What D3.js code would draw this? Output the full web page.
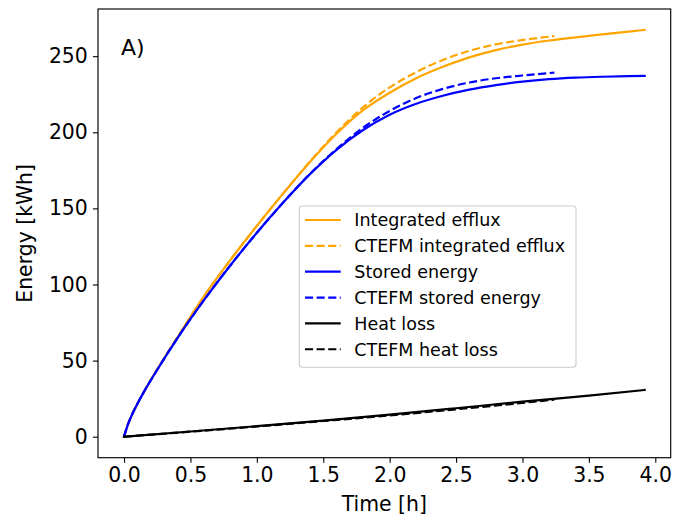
<!DOCTYPE html>
<html>
<head>
<meta charset="utf-8">
<script src="https://cdn.jsdelivr.net/npm/d3@7"></script>
<style>
  html, body { margin: 0; padding: 0; background: #fff; }
  svg { display: block; }
  text { font-family: "DejaVu Sans", sans-serif; fill: #000; }
</style>
</head>
<body>
<svg id="chart" width="675" height="522"></svg>
<script>
// Time axis (hours) and energy curves (kWh)
const effluxT   = [0, 0.025, 0.05, 0.1, 0.15, 0.25, 0.4, 0.6, 0.8, 1.0, 1.2, 1.4, 1.6, 1.8, 2.0, 2.2, 2.4, 2.6, 2.8, 3.0, 3.2, 3.4, 3.6, 3.8, 3.92];
const effluxE   = [0, 7, 12.5, 21.5, 29.5, 44.2, 65, 92, 116, 138.5, 160, 180.5, 199, 214.5, 226, 235.5, 243, 249.2, 254, 257.6, 260.3, 262.4, 264.3, 266.1, 267.3];

const cEffluxT  = [0, 0.025, 0.05, 0.1, 0.15, 0.25, 0.4, 0.6, 0.8, 1.0, 1.2, 1.4, 1.6, 1.8, 2.0, 2.2, 2.4, 2.6, 2.8, 3.0, 3.2, 3.24];
const cEffluxE  = [0, 7, 12.5, 21.5, 29.5, 44.2, 65, 92, 116, 138.5, 160, 180.8, 200, 216.5, 229.5, 239.5, 247.5, 253.5, 257.8, 260.6, 262.8, 263.2];

const storedT   = [0, 0.025, 0.05, 0.1, 0.15, 0.25, 0.4, 0.6, 0.8, 1.0, 1.2, 1.4, 1.6, 1.8, 2.0, 2.2, 2.4, 2.6, 2.8, 3.0, 3.2, 3.4, 3.6, 3.8, 3.92];
const storedE   = [0, 7, 12.5, 21.5, 29.5, 44, 64.5, 89.5, 112.5, 134, 154, 172.5, 188.5, 201.5, 211.5, 218.7, 224, 228, 231, 233.3, 234.9, 235.9, 236.5, 236.9, 237];

const cStoredT  = [0, 0.025, 0.05, 0.1, 0.15, 0.25, 0.4, 0.6, 0.8, 1.0, 1.2, 1.4, 1.6, 1.8, 2.0, 2.2, 2.4, 2.6, 2.8, 3.0, 3.2, 3.24];
const cStoredE  = [0, 7, 12.5, 21.5, 29.5, 44, 64.5, 89.5, 112.5, 134, 154, 172.7, 189, 203, 214, 222.5, 228.5, 232.7, 235.5, 237.3, 238.9, 239.2];

const lossT     = [0, 0.5, 1.0, 1.5, 2.0, 2.5, 3.0, 3.5, 3.92];
const lossE     = [0, 3.4, 6.9, 10.6, 14.5, 18.7, 23, 27, 30.7];

const cLossT    = [0, 0.5, 1.0, 1.5, 2.0, 2.5, 3.0, 3.24];
const cLossE    = [0, 3.3, 6.7, 10.3, 14.0, 18.0, 22.2, 24.4];

const xTicks = [0, 0.5, 1.0, 1.5, 2.0, 2.5, 3.0, 3.5, 4.0];
const yTicks = [0, 50, 100, 150, 200, 250];

const seriesNames = ["Integrated efflux", "CTEFM integrated efflux", "Stored energy",
                     "CTEFM stored energy", "Heat loss", "CTEFM heat loss"];

const series = [
  { name: seriesNames[0], t: effluxT,  e: effluxE,  color: "orange", dashed: false },
  { name: seriesNames[1], t: cEffluxT, e: cEffluxE, color: "orange", dashed: true },
  { name: seriesNames[2], t: storedT,  e: storedE,  color: "blue",   dashed: false },
  { name: seriesNames[3], t: cStoredT, e: cStoredE, color: "blue",   dashed: true },
  { name: seriesNames[4], t: lossT,    e: lossE,    color: "black",  dashed: false },
  { name: seriesNames[5], t: cLossT,   e: cLossE,   color: "black",  dashed: true }
];

const svg = d3.select("#chart");
const plot = { left: 98, top: 9, right: 670.7, bottom: 457.7 };

// data span 0..3.92 h and 0..267.5 kWh with 5% margins
const x = d3.scaleLinear().domain([-0.196, 4.116]).range([plot.left, plot.right]);
const y = d3.scaleLinear().domain([-13.8, 281]).range([plot.bottom, plot.top]);

const lineW = 2.2;
const dash = "8.1,3.5";
const tickFont = "20.4px";

const line = d3.line()
  .x(d => x(d[0]))
  .y(d => y(d[1]))
  .curve(d3.curveMonotoneX);

svg.append("defs").append("clipPath").attr("id", "plotclip")
  .append("rect")
  .attr("x", plot.left).attr("y", plot.top)
  .attr("width", plot.right - plot.left).attr("height", plot.bottom - plot.top);

const linesG = svg.append("g").attr("clip-path", "url(#plotclip)");
series.forEach(s => {
  linesG.append("path")
    .datum(s.t.map((t, i) => [t, s.e[i]]))
    .attr("d", line)
    .attr("fill", "none")
    .attr("stroke", s.color)
    .attr("stroke-width", lineW)
    .attr("stroke-dasharray", s.dashed ? dash : null)
    .attr("stroke-linejoin", "round")
    .attr("stroke-linecap", s.dashed ? "butt" : "square");
});

// Axes
const xAxis = d3.axisBottom(x).tickValues(xTicks).tickFormat(d3.format(".1f"))
  .tickSize(5.1).tickPadding(5.1).tickSizeOuter(0);
const yAxis = d3.axisLeft(y).tickValues(yTicks).tickFormat(d3.format("d"))
  .tickSize(5.1).tickPadding(5.1).tickSizeOuter(0);

const gx = svg.append("g").attr("transform", `translate(0,${plot.bottom})`).call(xAxis);
const gy = svg.append("g").attr("transform", `translate(${plot.left},0)`).call(yAxis);
[gx, gy].forEach(g => {
  g.select(".domain").remove();
  g.selectAll(".tick line").attr("stroke", "#000").attr("stroke-width", 1.1);
  g.selectAll(".tick text")
    .style("font-family", "'DejaVu Sans', sans-serif")
    .style("font-size", tickFont)
    .attr("fill", "#000");
});

// Frame
svg.append("rect")
  .attr("x", plot.left).attr("y", plot.top)
  .attr("width", plot.right - plot.left).attr("height", plot.bottom - plot.top)
  .attr("fill", "none").attr("stroke", "#000").attr("stroke-width", 1.15);

// Axis labels
svg.append("text")
  .attr("x", (plot.left + plot.right) / 2).attr("y", 511)
  .attr("text-anchor", "middle")
  .style("font-size", tickFont)
  .text("Time [h]");

svg.append("text")
  .attr("transform", `translate(32,${(plot.top + plot.bottom) / 2}) rotate(-90)`)
  .attr("text-anchor", "middle")
  .style("font-size", tickFont)
  .text("Energy [kWh]");

// Panel tag
svg.append("text")
  .attr("x", 121).attr("y", 54.5)
  .style("font-size", "22px")
  .text("A)");

// Legend
const legend = { x: 299.3, y: 206, w: 276.7, h: 161.3, rowY0: 220, rowStep: 25.85 };
const lg = svg.append("g");
lg.append("rect")
  .attr("x", legend.x).attr("y", legend.y)
  .attr("width", legend.w).attr("height", legend.h)
  .attr("rx", 3).attr("ry", 3)
  .attr("fill", "#fff").attr("fill-opacity", 0.8)
  .attr("stroke", "#cccccc").attr("stroke-width", 1.1);

series.forEach((s, i) => {
  const cy = legend.rowY0 + i * legend.rowStep;
  lg.append("line")
    .attr("x1", 305).attr("x2", 340.7)
    .attr("y1", cy).attr("y2", cy)
    .attr("stroke", s.color)
    .attr("stroke-width", lineW)
    .attr("stroke-dasharray", s.dashed ? dash : null);
  lg.append("text")
    .attr("x", 354.3).attr("y", cy).attr("dy", "0.37em")
    .style("font-size", "17.5px")
    .text(s.name);
});
</script>
</body>
</html>
